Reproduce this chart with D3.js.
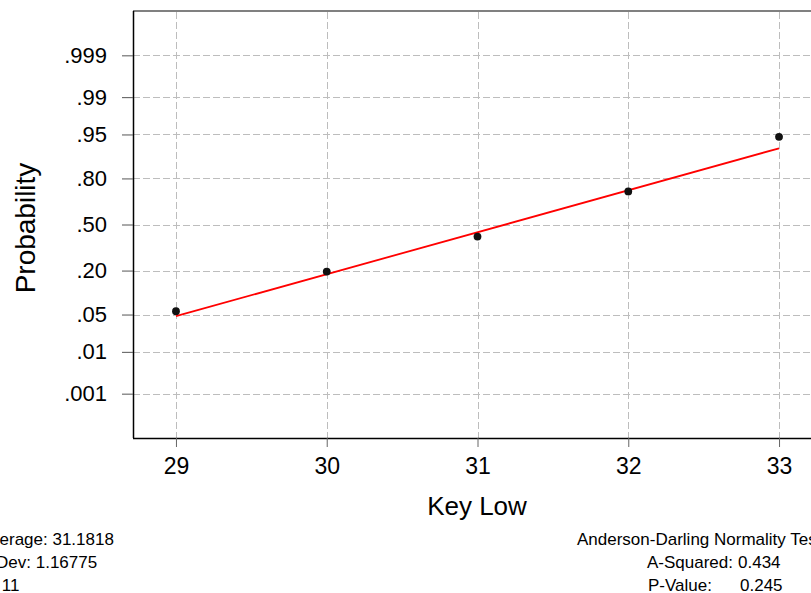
<!DOCTYPE html>
<html>
<head>
<meta charset="utf-8">
<script src="https://cdn.jsdelivr.net/npm/d3@7"></script>
<style>
  html, body { margin: 0; padding: 0; background: #fff; }
  svg { display: block; font-family: "Liberation Sans", Arial, sans-serif; }
</style>
</head>
<body>
<svg id="chart" width="811" height="593"></svg>
<script>
// ---- data ----
const xValues = [29, 30, 31, 32, 33];                     // Key Low values
const pointProb = [0.0566, 0.195, 0.413, 0.727, 0.9454];   // plotted probabilities
const fitX = [29, 33];                                      // fitted line ends
const fitProb = [0.047, 0.918];
const xTicks = [29, 30, 31, 32, 33];
const probTicks = [0.001, 0.01, 0.05, 0.20, 0.50, 0.80, 0.95, 0.99, 0.999];
const probLabels = [".001", ".01", ".05", ".20", ".50", ".80", ".95", ".99", ".999"];
const statsLeft = ["Average: 31.1818", "StDev: 1.16775", "N: 11"];
const adTitle = "Anderson-Darling Normality Test";
const adLabels = ["A-Squared:", "P-Value:"];
const adValues = ["0.434", "0.245"];

// inverse standard normal CDF (Acklam) used as the probability-scale transform
function qnorm(p) {
  const a = [-3.969683028665376e+01, 2.209460984245205e+02, -2.759285104469687e+02, 1.383577518672690e+02, -3.066479806614716e+01, 2.506628277459239e+00];
  const b = [-5.447609879822406e+01, 1.615858368580409e+02, -1.556989798598866e+02, 6.680131188771972e+01, -1.328068155288572e+01];
  const c = [-7.784894002430293e-03, -3.223964580411365e-01, -2.400758277161838e+00, -2.549671969251788e+00, 4.374664141464968e+00, 2.938163982698783e+00];
  const d = [7.784695709041462e-03, 3.224671290700398e-01, 2.445134137142996e+00, 3.754408661907416e+00];
  const pl = 0.02425, ph = 1 - pl;
  let q, r;
  if (p < pl) {
    q = Math.sqrt(-2 * Math.log(p));
    return (((((c[0]*q+c[1])*q+c[2])*q+c[3])*q+c[4])*q+c[5]) / ((((d[0]*q+d[1])*q+d[2])*q+d[3])*q+1);
  } else if (p <= ph) {
    q = p - 0.5; r = q*q;
    return (((((a[0]*r+a[1])*r+a[2])*r+a[3])*r+a[4])*r+a[5])*q / (((((b[0]*r+b[1])*r+b[2])*r+b[3])*r+b[4])*r+1);
  } else {
    q = Math.sqrt(-2 * Math.log(1 - p));
    return -(((((c[0]*q+c[1])*q+c[2])*q+c[3])*q+c[4])*q+c[5]) / ((((d[0]*q+d[1])*q+d[2])*q+d[3])*q+1);
  }
}

// ---- layout ----
const plotLeft = 133, plotTop = 11, plotBottom = 438, plotRight = 822;
const svg = d3.select("#chart");

const x = d3.scaleLinear().domain([28.715, 33.285]).range([plotLeft, plotRight]);
const yz = d3.scaleLinear().domain([-3.9, 3.9]).range([plotBottom, plotTop]);
const y = p => yz(qnorm(p));

// grid
const grid = svg.append("g").attr("stroke", "#bdbdbd").attr("stroke-width", 1).attr("stroke-dasharray", "7,3");
grid.selectAll("line.h").data(probTicks).join("line")
  .attr("x1", plotLeft).attr("x2", plotRight)
  .attr("y1", d => Math.round(y(d)) + 0.5).attr("y2", d => Math.round(y(d)) + 0.5);
grid.selectAll("line.v").data(xTicks).join("line")
  .attr("y1", plotTop + 1).attr("y2", plotBottom)
  .attr("x1", d => Math.round(x(d)) + 0.5).attr("x2", d => Math.round(x(d)) + 0.5);

// top frame
svg.append("line").attr("x1", plotLeft).attr("x2", plotRight).attr("y1", plotTop).attr("y2", plotTop)
  .attr("stroke", "#808080").attr("stroke-width", 2);

// axes
const yAxis = d3.axisLeft(yz).tickValues(probTicks.map(qnorm))
  .tickFormat((d, i) => probLabels[i]).tickSize(11).tickPadding(15);
const gy = svg.append("g").attr("transform", `translate(${plotLeft},0)`).call(yAxis);
gy.select(".domain").attr("stroke", "#000").attr("stroke-width", 1.5).attr("d", `M0.5,${plotTop}V${plotBottom}`);
gy.selectAll(".tick line").attr("stroke", "#555");
gy.selectAll(".tick text").attr("font-size", 22).attr("fill", "#000")
  .attr("font-family", "Liberation Sans, Arial, sans-serif");

const xAxis = d3.axisBottom(x).tickValues(xTicks).tickFormat(d3.format("d")).tickSize(9).tickPadding(11);
const gx = svg.append("g").attr("transform", `translate(0,${plotBottom})`).call(xAxis);
gx.select(".domain").attr("stroke", "#000").attr("stroke-width", 1.5).attr("d", `M${plotLeft},0.5H${plotRight}`);
gx.selectAll(".tick line").attr("stroke", "#666");
gx.selectAll(".tick text").attr("font-size", 23).attr("fill", "#000")
  .attr("font-family", "Liberation Sans, Arial, sans-serif");

// fitted line
svg.append("path")
  .datum(fitX.map((v, i) => [v, fitProb[i]]))
  .attr("fill", "none").attr("stroke", "#ff0000").attr("stroke-width", 1.8)
  .attr("d", d3.line().x(d => x(d[0])).y(d => y(d[1])));

// points
svg.append("g").selectAll("circle").data(xValues.map((v, i) => [v, pointProb[i]])).join("circle")
  .attr("cx", d => x(d[0])).attr("cy", d => y(d[1])).attr("r", 3.9).attr("fill", "#111");

// axis titles
svg.append("text").attr("transform", "translate(35,228) rotate(-90)")
  .attr("text-anchor", "middle").attr("font-size", 28).text("Probability");
svg.append("text").attr("x", 477).attr("y", 515)
  .attr("text-anchor", "middle").attr("font-size", 26).text("Key Low");

// stats text (the reference crops these at the image edges)
svg.append("g").selectAll("text").data(statsLeft).join("text")
  .attr("x", -20).attr("y", (d, i) => 545 + i * 23).attr("font-size", 17).text(d => d);

svg.append("text").attr("x", 577).attr("y", 545).attr("font-size", 17).text(adTitle);
svg.append("g").selectAll("text").data(adLabels).join("text")
  .attr("x", (d, i) => i === 0 ? 647 : 648).attr("y", (d, i) => 568 + i * 23).attr("font-size", 17).text(d => d);
svg.append("g").selectAll("text").data(adValues).join("text")
  .attr("x", (d, i) => i === 0 ? 738 : 740).attr("y", (d, i) => 568 + i * 23).attr("font-size", 17).text(d => d);
</script>
</body>
</html>
